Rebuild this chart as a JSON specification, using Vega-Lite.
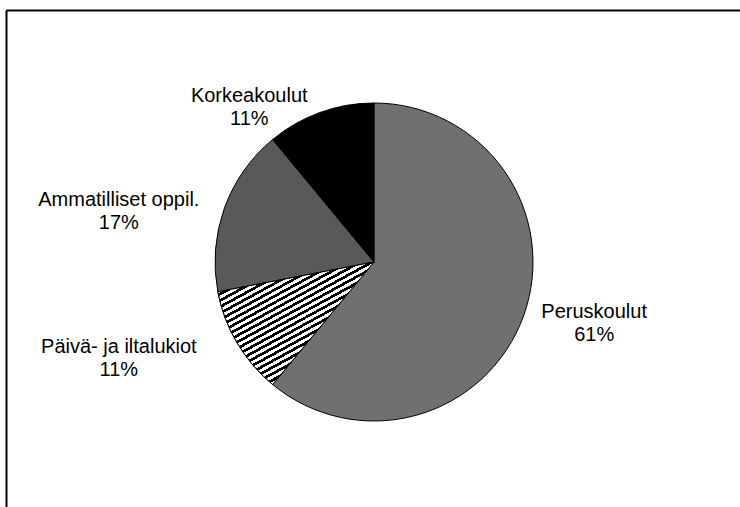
{
  "$schema": "https://vega.github.io/schema/vega-lite/v6.json",
  "width": 736,
  "height": 504,
  "autosize": {"type": "none"},
  "padding": {"left": 6, "top": 10, "right": -2, "bottom": -7},
  "background": "#ffffff",
  "view": {"stroke": null, "fill": "#ffffff"},
  "config": {"view": {"stroke": null}},
  "data": {"values": [
    {"name": "Peruskoulut", "value": 61},
    {"name": "Päivä- ja iltalukiot", "value": 11},
    {"name": "Ammatilliset oppil.", "value": 17},
    {"name": "Korkeakoulut", "value": 11}
  ]},
  "transform": [
    {"stack": "value", "groupby": [], "as": ["v0", "v1"]},
    {"calculate": "(datum.v0 + datum.v1) / 2", "as": "mid"},
    {"calculate": "[datum.name, datum.value + '%']", "as": "label"}
  ],
  "layer": [
    {
      "mark": {"type": "point", "opacity": 0},
      "encoding": {
        "x": {"field": "value", "type": "quantitative", "axis": {"orient": "top", "title": null, "labels": false, "ticks": false, "grid": false, "domainColor": "#000000", "domainWidth": 2}},
        "y": {"field": "value", "type": "quantitative", "axis": {"orient": "left", "title": null, "labels": false, "ticks": false, "grid": false, "domainColor": "#000000", "domainWidth": 2}}
      }
    },
    {
      "mark": {"type": "arc", "outerRadius": 159, "stroke": "#000000", "strokeWidth": 1},
      "encoding": {
        "theta": {"field": "v0", "type": "quantitative", "scale": {"domain": [0, 100]}},
        "theta2": {"field": "v1"},
        "fill": {"field": "name", "type": "nominal", "legend": null,
          "scale": {"domain": ["Peruskoulut", "Päivä- ja iltalukiot", "Ammatilliset oppil.", "Korkeakoulut"],
                    "range": ["#707070", "#ffffff", "#595959", "#000000"]}}
      }
    },
    {
      "transform": [{"filter": "datum.name === 'Päivä- ja iltalukiot'"}],
      "mark": {"type": "arc", "outerRadius": 159, "stroke": "#000000", "strokeWidth": 1,
        "fill": {"gradient": "linear", "x1": 0, "y1": 0, "x2": 0.78, "y2": 1.12, "stops": [
          {"offset": 0, "color": "#000"}, {"offset": 0.015, "color": "#000"}, {"offset": 0.015, "color": "#fff"}, {"offset": 0.03125, "color": "#fff"},
          {"offset": 0.03125, "color": "#000"}, {"offset": 0.04625, "color": "#000"}, {"offset": 0.04625, "color": "#fff"}, {"offset": 0.0625, "color": "#fff"},
          {"offset": 0.0625, "color": "#000"}, {"offset": 0.0775, "color": "#000"}, {"offset": 0.0775, "color": "#fff"}, {"offset": 0.09375, "color": "#fff"},
          {"offset": 0.09375, "color": "#000"}, {"offset": 0.10875, "color": "#000"}, {"offset": 0.10875, "color": "#fff"}, {"offset": 0.125, "color": "#fff"},
          {"offset": 0.125, "color": "#000"}, {"offset": 0.14, "color": "#000"}, {"offset": 0.14, "color": "#fff"}, {"offset": 0.15625, "color": "#fff"},
          {"offset": 0.15625, "color": "#000"}, {"offset": 0.17125, "color": "#000"}, {"offset": 0.17125, "color": "#fff"}, {"offset": 0.1875, "color": "#fff"},
          {"offset": 0.1875, "color": "#000"}, {"offset": 0.2025, "color": "#000"}, {"offset": 0.2025, "color": "#fff"}, {"offset": 0.21875, "color": "#fff"},
          {"offset": 0.21875, "color": "#000"}, {"offset": 0.23375, "color": "#000"}, {"offset": 0.23375, "color": "#fff"}, {"offset": 0.25, "color": "#fff"},
          {"offset": 0.25, "color": "#000"}, {"offset": 0.265, "color": "#000"}, {"offset": 0.265, "color": "#fff"}, {"offset": 0.28125, "color": "#fff"},
          {"offset": 0.28125, "color": "#000"}, {"offset": 0.29625, "color": "#000"}, {"offset": 0.29625, "color": "#fff"}, {"offset": 0.3125, "color": "#fff"},
          {"offset": 0.3125, "color": "#000"}, {"offset": 0.3275, "color": "#000"}, {"offset": 0.3275, "color": "#fff"}, {"offset": 0.34375, "color": "#fff"},
          {"offset": 0.34375, "color": "#000"}, {"offset": 0.35875, "color": "#000"}, {"offset": 0.35875, "color": "#fff"}, {"offset": 0.375, "color": "#fff"},
          {"offset": 0.375, "color": "#000"}, {"offset": 0.39, "color": "#000"}, {"offset": 0.39, "color": "#fff"}, {"offset": 0.40625, "color": "#fff"},
          {"offset": 0.40625, "color": "#000"}, {"offset": 0.42125, "color": "#000"}, {"offset": 0.42125, "color": "#fff"}, {"offset": 0.4375, "color": "#fff"},
          {"offset": 0.4375, "color": "#000"}, {"offset": 0.4525, "color": "#000"}, {"offset": 0.4525, "color": "#fff"}, {"offset": 0.46875, "color": "#fff"},
          {"offset": 0.46875, "color": "#000"}, {"offset": 0.48375, "color": "#000"}, {"offset": 0.48375, "color": "#fff"}, {"offset": 0.5, "color": "#fff"},
          {"offset": 0.5, "color": "#000"}, {"offset": 0.515, "color": "#000"}, {"offset": 0.515, "color": "#fff"}, {"offset": 0.53125, "color": "#fff"},
          {"offset": 0.53125, "color": "#000"}, {"offset": 0.54625, "color": "#000"}, {"offset": 0.54625, "color": "#fff"}, {"offset": 0.5625, "color": "#fff"},
          {"offset": 0.5625, "color": "#000"}, {"offset": 0.5775, "color": "#000"}, {"offset": 0.5775, "color": "#fff"}, {"offset": 0.59375, "color": "#fff"},
          {"offset": 0.59375, "color": "#000"}, {"offset": 0.60875, "color": "#000"}, {"offset": 0.60875, "color": "#fff"}, {"offset": 0.625, "color": "#fff"},
          {"offset": 0.625, "color": "#000"}, {"offset": 0.64, "color": "#000"}, {"offset": 0.64, "color": "#fff"}, {"offset": 0.65625, "color": "#fff"},
          {"offset": 0.65625, "color": "#000"}, {"offset": 0.67125, "color": "#000"}, {"offset": 0.67125, "color": "#fff"}, {"offset": 0.6875, "color": "#fff"},
          {"offset": 0.6875, "color": "#000"}, {"offset": 0.7025, "color": "#000"}, {"offset": 0.7025, "color": "#fff"}, {"offset": 0.71875, "color": "#fff"},
          {"offset": 0.71875, "color": "#000"}, {"offset": 0.73375, "color": "#000"}, {"offset": 0.73375, "color": "#fff"}, {"offset": 0.75, "color": "#fff"},
          {"offset": 0.75, "color": "#000"}, {"offset": 0.765, "color": "#000"}, {"offset": 0.765, "color": "#fff"}, {"offset": 0.78125, "color": "#fff"},
          {"offset": 0.78125, "color": "#000"}, {"offset": 0.79625, "color": "#000"}, {"offset": 0.79625, "color": "#fff"}, {"offset": 0.8125, "color": "#fff"},
          {"offset": 0.8125, "color": "#000"}, {"offset": 0.8275, "color": "#000"}, {"offset": 0.8275, "color": "#fff"}, {"offset": 0.84375, "color": "#fff"},
          {"offset": 0.84375, "color": "#000"}, {"offset": 0.85875, "color": "#000"}, {"offset": 0.85875, "color": "#fff"}, {"offset": 0.875, "color": "#fff"},
          {"offset": 0.875, "color": "#000"}, {"offset": 0.89, "color": "#000"}, {"offset": 0.89, "color": "#fff"}, {"offset": 0.90625, "color": "#fff"},
          {"offset": 0.90625, "color": "#000"}, {"offset": 0.92125, "color": "#000"}, {"offset": 0.92125, "color": "#fff"}, {"offset": 0.9375, "color": "#fff"},
          {"offset": 0.9375, "color": "#000"}, {"offset": 0.9525, "color": "#000"}, {"offset": 0.9525, "color": "#fff"}, {"offset": 0.96875, "color": "#fff"},
          {"offset": 0.96875, "color": "#000"}, {"offset": 0.98375, "color": "#000"}, {"offset": 0.98375, "color": "#fff"}, {"offset": 1, "color": "#fff"}
        ]}},
      "encoding": {
        "theta": {"field": "v0", "type": "quantitative", "scale": {"domain": [0, 100]}},
        "theta2": {"field": "v1"}
      }
    },
    {
      "transform": [{"filter": "datum.name === 'Peruskoulut'"}],
      "mark": {"type": "text", "radius": 200, "dx": 32, "dy": -12, "align": "center", "baseline": "alphabetic", "font": "Liberation Sans", "fontSize": 20, "lineHeight": 23, "color": "#000000"},
      "encoding": {"theta": {"field": "mid", "type": "quantitative", "scale": {"domain": [0, 100]}}, "text": {"field": "label"}}
    },
    {
      "transform": [{"filter": "datum.name === 'Päivä- ja iltalukiot'"}],
      "mark": {"type": "text", "radius": 200, "dx": -83, "dy": -11, "align": "center", "baseline": "alphabetic", "font": "Liberation Sans", "fontSize": 20, "lineHeight": 23, "color": "#000000"},
      "encoding": {"theta": {"field": "mid", "type": "quantitative", "scale": {"domain": [0, 100]}}, "text": {"field": "label"}}
    },
    {
      "transform": [{"filter": "datum.name === 'Ammatilliset oppil.'"}],
      "mark": {"type": "text", "radius": 200, "dx": -67, "dy": 12, "align": "center", "baseline": "alphabetic", "font": "Liberation Sans", "fontSize": 20, "lineHeight": 23, "color": "#000000"},
      "encoding": {"theta": {"field": "mid", "type": "quantitative", "scale": {"domain": [0, 100]}}, "text": {"field": "label"}}
    },
    {
      "transform": [{"filter": "datum.name === 'Korkeakoulut'"}],
      "mark": {"type": "text", "radius": 200, "dx": -57, "dy": 28, "align": "center", "baseline": "alphabetic", "font": "Liberation Sans", "fontSize": 20, "lineHeight": 23, "color": "#000000"},
      "encoding": {"theta": {"field": "mid", "type": "quantitative", "scale": {"domain": [0, 100]}}, "text": {"field": "label"}}
    }
  ]
}
